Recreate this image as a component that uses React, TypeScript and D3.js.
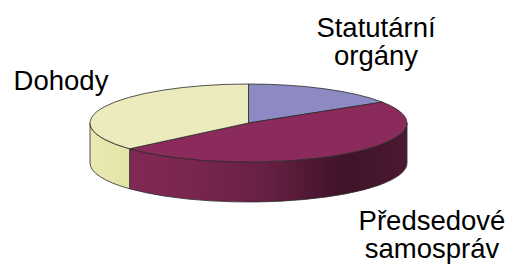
import { useEffect, useRef } from "react";
import * as d3 from "d3";

const categories = ["Statutární orgány", "Předsedové samospráv", "Dohody"];
const values = [16, 47.5, 36.5];
const labelLines = [["Statutární", "orgány"], ["Předsedové", "samospráv"], ["Dohody"]];
const colors = ["#8d89c2", "#8b2b5b", "#ebebbe"];

const W = 509;
const H = 267;

const App = () => {
  const ref = useRef<SVGSVGElement | null>(null);

  useEffect(() => {
    const svg = d3.select(ref.current);
    svg.selectAll("*").remove();

    const cx = 248.5;
    const cy = 123;
    const rx = 158.5;
    const ry = 39;
    const depth = 40;

    const data = categories.map((c, i) => ({ name: c, value: values[i], lines: labelLines[i] }));

    const pie = d3.pie<any>().sort(null).value(d => d.value).startAngle(0).endAngle(2 * Math.PI);
    const arcs = pie(data);

    const color = d3.scaleOrdinal<string, string>().domain(categories).range(colors);

    const px = (a: number) => cx + rx * Math.sin(a);
    const py = (a: number, dz = 0) => cy - ry * Math.cos(a) + dz;

    // side gradients
    const defs = svg.append("defs");
    categories.forEach((c, i) => {
      const base = d3.hsl(color(c));
      const g = defs.append("linearGradient")
        .attr("id", "side" + i)
        .attr("gradientUnits", "userSpaceOnUse")
        .attr("x1", cx - rx).attr("x2", cx + rx)
        .attr("y1", 0).attr("y2", 0);
      const stops = [
        [0, 0.97], [0.3, 0.88], [0.55, 0.75], [0.8, 0.45], [1, 0.55]
      ];
      stops.forEach(([o, k]) => {
        g.append("stop")
          .attr("offset", o)
          .attr("stop-color", d3.hsl(base.h, base.s, base.l * k).formatHex());
      });
    });

    const front0 = Math.PI / 2;
    const front1 = Math.PI * 1.5;

    // side walls
    arcs.forEach((d, i) => {
      const a = Math.max(d.startAngle, front0);
      const b = Math.min(d.endAngle, front1);
      if (b <= a) return;
      const p = `M${px(a)},${py(a)} A${rx},${ry} 0 0 1 ${px(b)},${py(b)} L${px(b)},${py(b, depth)} A${rx},${ry} 0 0 0 ${px(a)},${py(a, depth)} Z`;
      svg.append("path")
        .attr("d", p)
        .attr("fill", `url(#side${i})`)
        .attr("stroke", "#2a2a2a")
        .attr("stroke-width", 0.8)
        .attr("stroke-linejoin", "round");
    });

    // top faces
    arcs.forEach(d => {
      const a = d.startAngle;
      const b = d.endAngle;
      const large = b - a > Math.PI ? 1 : 0;
      const p = `M${cx},${cy} L${px(a)},${py(a)} A${rx},${ry} 0 ${large} 1 ${px(b)},${py(b)} Z`;
      svg.append("path")
        .attr("d", p)
        .attr("fill", color(d.data.name))
        .attr("stroke", "#2a2a2a")
        .attr("stroke-width", 0.8)
        .attr("stroke-linejoin", "round");
    });

    // labels
    const labelPos = [
      { x: 376, y: 37 },
      { x: 432, y: 230 },
      { x: 61, y: 90 }
    ];
    arcs.forEach((d, i) => {
      const t = svg.append("text")
        .attr("text-anchor", "middle")
        .attr("font-family", "'Liberation Sans', Arial, sans-serif")
        .attr("font-size", "27.5px")
        .attr("fill", "#000");
      d.data.lines.forEach((ln: string, j: number) => {
        t.append("tspan")
          .attr("x", labelPos[i].x)
          .attr("y", labelPos[i].y + j * 28)
          .text(ln);
      });
    });
  }, []);

  return (
    <svg
      ref={ref}
      width={W}
      height={H}
      style={{ position: "absolute", left: 0, top: 0, background: "#fff" }}
    />
  );
};

export default App;
